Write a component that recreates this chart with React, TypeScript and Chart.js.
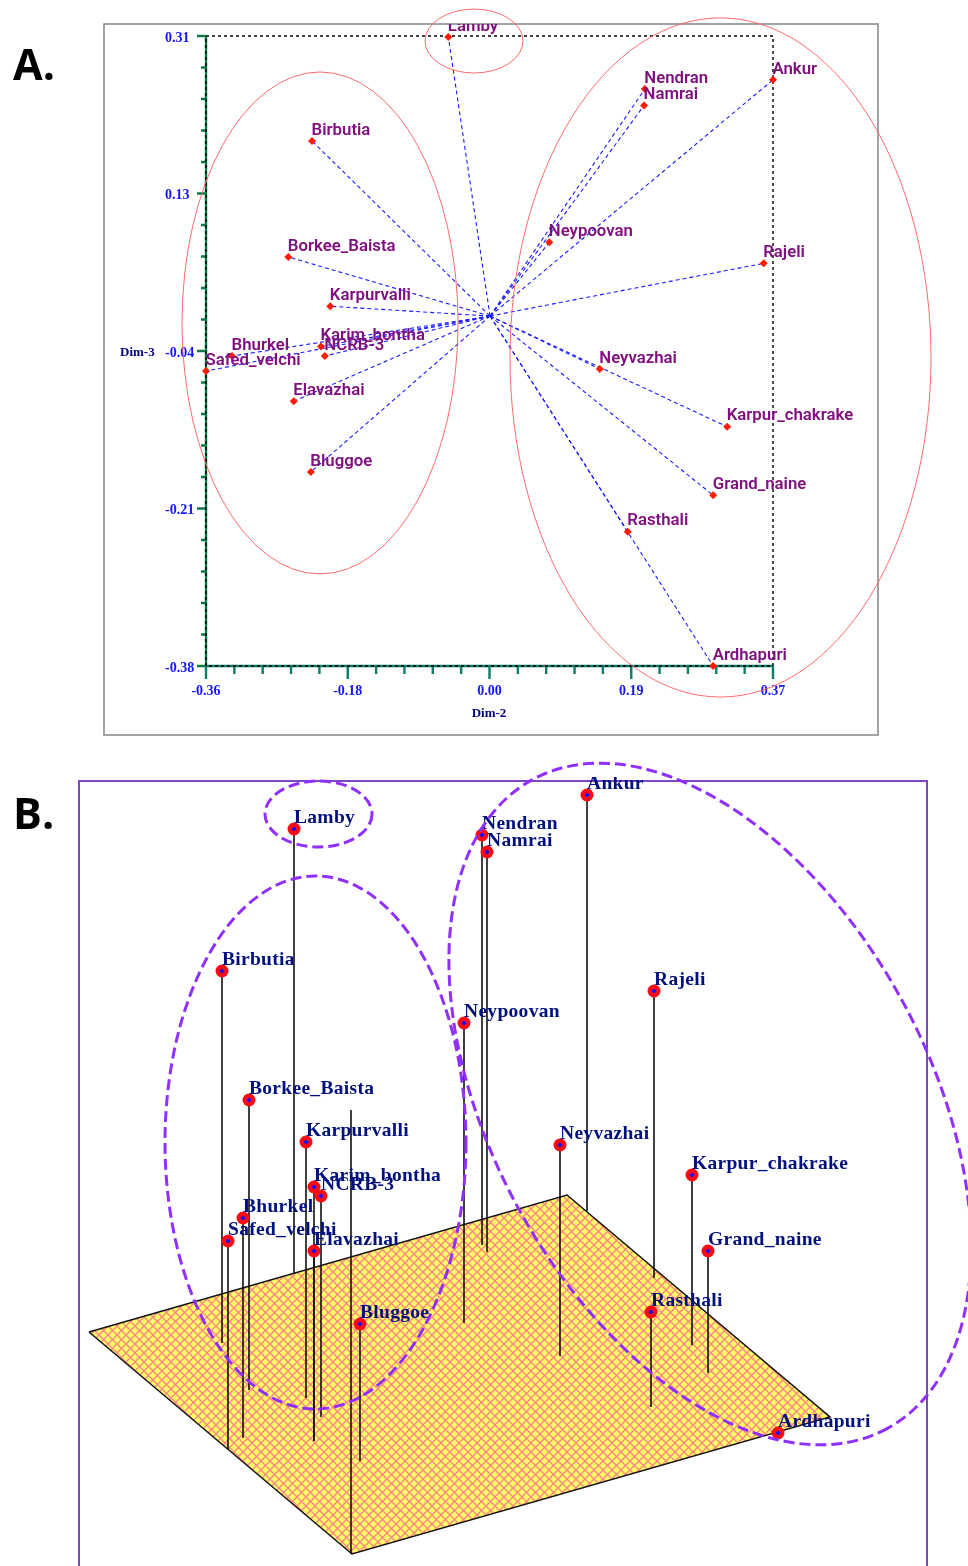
import React, { useEffect, useRef } from "react";
import Chart from "chart.js/auto";

const genotypes = ["Lamby","Nendran","Namrai","Ankur","Birbutia","Neypoovan","Rajeli","Borkee_Baista","Karpurvalli","Karim_bontha","NCRB-3","Bhurkel","Safed_velchi","Elavazhai","Neyvazhai","Karpur_chakrake","Grand_naine","Bluggoe","Rasthali","Ardhapuri"];

// Panel A: two-dimensional scores
const dim2 = [-0.048,0.205,0.204,0.37,-0.2235,0.082,0.358,-0.254,-0.2,-0.212,-0.207,-0.3265,-0.36,-0.247,0.147,0.311,0.293,-0.225,0.183,0.293];
const dim3 = [0.309,0.252,0.234,0.262,0.195,0.084,0.061,0.068,0.014,-0.03,-0.0405,-0.0405,-0.057,-0.09,-0.0547,-0.118,-0.193,-0.1675,-0.233,-0.38];
const origin = { x: 0.0057, y: 0.0033 };
const xTickLabels = ["-0.36","-0.18","0.00","0.19","0.37"];
const yTickLabels = ["-0.38","-0.21","-0.04","0.13","0.31"];
// cx, cy, rx, ry in score units
const groupsA = [[-0.0149,0.3045,0.0631,0.035],[-0.2132,-0.0043,0.1777,0.2749],[0.3024,-0.0421,0.271,0.3719]];

// Panel B: projected three-dimensional view, in projection units
const projX = [294,482,487,587,222,464,654,249,306,314,321,243,228,314,560,692,708,360,651,778];
const projY = [829,835,852,795,971,1023,991,1100,1142,1187,1196,1218,1241,1251,1145,1175,1251,1324,1312,1433];
const projFoot = [1273,1245,1252,1211,1343,1323,1278,1390,1398,1441,1417,1438,1449,1441,1356,1345,1373,1461,1407,1433];
const planeX = [89,567,830,352,89];
const planeY = [1332,1195,1417,1554,1332];
const cornerX = [351,351];
const cornerY = [1110,1554];
// cx, cy, rx, ry, rotation in degrees
const groupsB = [[318.5,814,53.5,33,0],[315.5,1142.5,150.5,266.5,0],[710,1104,369.8,218.2,61.3]];

const hatch = () => {
  const c = document.createElement("canvas");
  c.width = 9; c.height = 9;
  const g = c.getContext("2d")!;
  g.fillStyle = "#ffff66";
  g.fillRect(0, 0, 9, 9);
  g.strokeStyle = "#ff8585";
  g.lineWidth = 1.4;
  g.beginPath();
  g.moveTo(-1, -1); g.lineTo(10, 10);
  g.moveTo(-1, 10); g.lineTo(10, -1);
  g.stroke();
  return g.createPattern(c, "repeat")!;
};

const drawPanelA = {
  id: "panelA",
  beforeDraw(chart: any) {
    const { ctx } = chart;
    ctx.save();
    ctx.strokeStyle = "#858585";
    ctx.lineWidth = 1.5;
    ctx.strokeRect(104, 24, 774, 711);
    ctx.restore();
  },
  beforeDatasetsDraw(chart: any) {
    const { ctx, scales, chartArea: a } = chart;
    const sx = scales.x, sy = scales.y;
    ctx.save();
    ctx.lineWidth = 2.4;
    ctx.strokeStyle = "#0a7a45";
    ctx.beginPath();
    sy.ticks.forEach((t: any, i: number) => {
      const p = sy.getPixelForValue(t.value);
      ctx.moveTo(a.left, p); ctx.lineTo(a.left - (i % 5 === 0 ? 9 : 5), p);
    });
    ctx.moveTo(a.left, a.top); ctx.lineTo(a.left, a.bottom);
    ctx.stroke();
    ctx.strokeStyle = "#0b7d6a";
    ctx.beginPath();
    sx.ticks.forEach((t: any, i: number) => {
      const p = sx.getPixelForValue(t.value);
      ctx.moveTo(p, a.bottom); ctx.lineTo(p, a.bottom + (i % 5 === 0 ? 13 : 8));
    });
    ctx.moveTo(a.left, a.bottom); ctx.lineTo(a.right, a.bottom);
    ctx.stroke();
    ctx.strokeStyle = "#000";
    ctx.lineWidth = 1.4;
    ctx.setLineDash([3, 3]);
    ctx.strokeRect(a.left, a.top, a.right - a.left, a.bottom - a.top);
    ctx.restore();
  },
  afterDatasetsDraw(chart: any) {
    const { ctx, scales } = chart;
    const sx = scales.x, sy = scales.y;
    ctx.save();
    ctx.strokeStyle = "#ff5a5a";
    ctx.lineWidth = 0.9;
    groupsA.forEach(([cx, cy, rx, ry]) => {
      const px = sx.getPixelForValue(cx), py = sy.getPixelForValue(cy);
      ctx.beginPath();
      ctx.ellipse(px, py, Math.abs(sx.getPixelForValue(cx + rx) - px), Math.abs(sy.getPixelForValue(cy + ry) - py), 0, 0, Math.PI * 2);
      ctx.stroke();
    });
    ctx.beginPath();
    ctx.rect(104, 24, 774, 711);
    ctx.clip();
    ctx.font = "600 16.8px Roboto";
    ctx.fillStyle = "#80107f";
    ctx.textBaseline = "middle";
    ctx.textAlign = "left";
    const meta = chart.getDatasetMeta(genotypes.length);
    genotypes.forEach((n, i) => {
      const el = meta.data[i];
      ctx.fillText(n, el.x - 0.5, el.y - 10.5);
    });
    ctx.font = "bold 13px 'Liberation Serif'";
    ctx.fillStyle = "#000080";
    ctx.fillText("Dim-3", 120, sy.getPixelForValue(-0.037));
    ctx.textAlign = "center";
    ctx.fillText("Dim-2", 489, 714);
    ctx.restore();
  },
};

const drawPanelB = {
  id: "panelB",
  afterDatasetsDraw(chart: any) {
    const { ctx, scales } = chart;
    const sx = scales.x, sy = scales.y;
    ctx.save();
    ctx.strokeStyle = "#7c48bd";
    ctx.lineWidth = 2;
    const fl = sx.getPixelForValue(79), fr = sx.getPixelForValue(927), ft = sy.getPixelForValue(781), fb = sy.getPixelForValue(1566);
    ctx.beginPath();
    ctx.moveTo(fl, fb + 5); ctx.lineTo(fl, ft); ctx.lineTo(fr, ft); ctx.lineTo(fr, fb + 5);
    ctx.stroke();
    ctx.save();
    ctx.beginPath();
    ctx.rect(0, ft - 4, 968, fb);
    ctx.clip();
    ctx.font = "bold 19.5px 'Liberation Serif'";
    (ctx as any).letterSpacing = "0.3px";
    ctx.fillStyle = "#00107e";
    ctx.textBaseline = "middle";
    ctx.textAlign = "left";
    const meta = chart.getDatasetMeta(chart.data.datasets.length - 1);
    genotypes.forEach((n, i) => {
      const el = meta.data[i];
      ctx.fillText(n, el.x, el.y - 11);
    });
    ctx.restore();
    ctx.strokeStyle = "#9030ff";
    ctx.lineWidth = 3;
    ctx.setLineDash([11, 5]);
    groupsB.forEach(([cx, cy, rx, ry, rot]) => {
      ctx.beginPath();
      ctx.ellipse(sx.getPixelForValue(cx), sy.getPixelForValue(cy), rx, ry, (rot * Math.PI) / 180, 0, Math.PI * 2);
      ctx.stroke();
    });
    ctx.restore();
  },
};

export default function App() {
  const a = useRef<HTMLCanvasElement>(null);
  const b = useRef<HTMLCanvasElement>(null);
  useEffect(() => {
    document.body.style.margin = "0";
    const tickFont = { family: "'Liberation Serif'", size: 14, weight: "bold" as const };
    const rays = genotypes.map((_, i) => ({
      type: "line" as const,
      data: [origin, { x: dim2[i], y: dim3[i] }],
      borderColor: "#1a1aff",
      borderWidth: 1.1,
      borderDash: [4, 3],
      pointRadius: 0,
      fill: false,
      order: 5,
      clip: false as any,
    }));
    const chartA = new Chart(a.current!, {
      type: "scatter",
      data: {
        datasets: [
          ...rays,
          {
            data: genotypes.map((_, i) => ({ x: dim2[i], y: dim3[i] })),
            pointStyle: "rectRot",
            pointRadius: 4,
            borderWidth: 0,
            backgroundColor: "#ff1a00",
            order: 1,
            clip: false as any,
          },
        ] as any,
      },
      options: {
        animation: false,
        responsive: false,
        devicePixelRatio: 1,
        layout: { autoPadding: false, padding: { left: 165, right: 195, top: 36, bottom: 44 } },
        plugins: { legend: { display: false }, tooltip: { enabled: false } },
        scales: {
          x: {
            type: "linear",
            min: -0.36,
            max: 0.37,
            afterBuildTicks: (s: any) => {
              s.ticks = Array.from({ length: 21 }, (_, i) => ({ value: -0.36 + (0.73 * i) / 20 }));
            },
            afterFit: (s: any) => { s.height = 40; },
            grid: { drawOnChartArea: false, drawTicks: false },
            border: { display: false },
            ticks: {
              color: "#1414ff",
              font: tickFont,
              padding: 17,
              autoSkip: false,
              maxRotation: 0,
              callback: (_: any, i: number) => (i % 5 === 0 ? xTickLabels[i / 5] : ""),
            },
          },
          y: {
            type: "linear",
            min: -0.38,
            max: 0.31,
            afterBuildTicks: (s: any) => {
              s.ticks = Array.from({ length: 21 }, (_, i) => ({ value: -0.38 + (0.69 * i) / 20 }));
            },
            afterFit: (s: any) => { s.width = 41; },
            grid: { drawOnChartArea: false, drawTicks: false },
            border: { display: false },
            ticks: {
              color: "#1414ff",
              font: { ...tickFont, lineHeight: "4px" },
              crossAlign: "far",
              autoSkip: false,
              callback: (_: any, i: number) => (i % 5 === 0 ? ["", yTickLabels[i / 5]] : ""),
            },
          },
        },
      } as any,
      plugins: [drawPanelA],
    });

    const stems = genotypes.map((_, i) => ({
      type: "line" as const,
      data: [{ x: projX[i], y: projY[i] }, { x: projX[i], y: projFoot[i] }],
      borderColor: "#111",
      borderWidth: 1.6,
      pointRadius: 0,
      fill: false,
      order: 5,
      clip: false as any,
    }));
    const chartB = new Chart(b.current!, {
      type: "scatter",
      data: {
        datasets: [
          {
            type: "line",
            data: planeX.map((x, i) => ({ x, y: planeY[i] })),
            borderColor: "#111",
            borderWidth: 1.5,
            backgroundColor: hatch(),
            fill: "shape",
            pointRadius: 0,
            tension: 0,
            order: 10,
          },
          {
            type: "line",
            data: cornerX.map((x, i) => ({ x, y: cornerY[i] })),
            borderColor: "#111",
            borderWidth: 1.6,
            pointRadius: 0,
            fill: false,
            order: 5,
          },
          ...stems,
          {
            data: genotypes.map((_, i) => ({ x: projX[i], y: projY[i] })),
            pointStyle: "circle",
            pointRadius: 6.5,
            backgroundColor: "#ff0a14",
            borderWidth: 0,
            order: 2,
            clip: false as any,
          },
          {
            data: genotypes.map((_, i) => ({ x: projX[i], y: projY[i] })),
            pointStyle: "rectRot",
            pointRadius: 2.6,
            backgroundColor: "#1010ff",
            borderWidth: 0,
            order: 1,
            clip: false as any,
          },
        ] as any,
      },
      options: {
        animation: false,
        responsive: false,
        devicePixelRatio: 1,
        layout: { autoPadding: false, padding: 0 },
        plugins: { legend: { display: false }, tooltip: { enabled: false } },
        scales: {
          x: { type: "linear", display: false, min: 0, max: 968 },
          y: { type: "linear", display: false, min: 750, max: 1566, reverse: true },
        },
      } as any,
      plugins: [drawPanelB],
    });
    return () => { chartA.destroy(); chartB.destroy(); };
  }, []);
  const letter: React.CSSProperties = { position: "absolute", left: 13, fontFamily: "'Open Sans'", fontWeight: 700, fontSize: 43, lineHeight: "48px", color: "#000" };
  return (
    <div style={{ position: "absolute", left: 0, top: 0, width: 968, height: 1566, overflow: "hidden", background: "#fff" }}>
      <canvas ref={a} width={968} height={750} style={{ position: "absolute", left: 0, top: 0, width: 968, height: 750 }} />
      <canvas ref={b} width={968} height={816} style={{ position: "absolute", left: 0, top: 750, width: 968, height: 816 }} />
      <div style={{ ...letter, top: 40 }}>A.</div>
      <div style={{ ...letter, top: 789 }}>B.</div>
    </div>
  );
}
